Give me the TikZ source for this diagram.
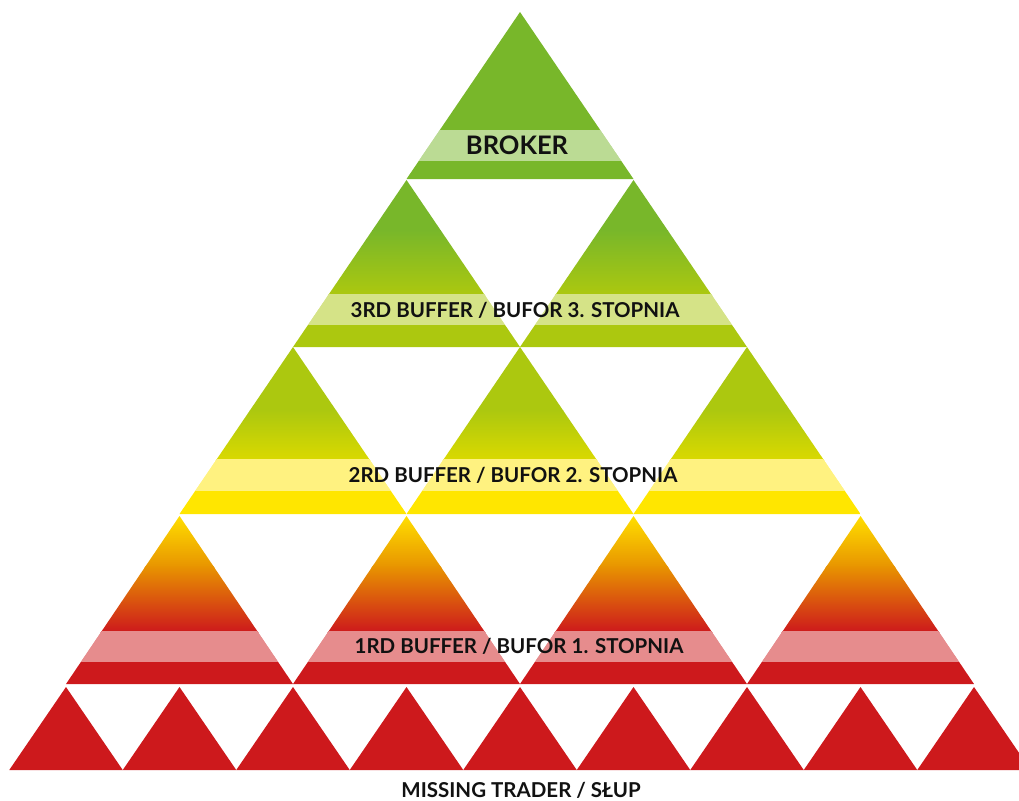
\documentclass[tikz,border=0pt]{standalone}
\usepackage{fontspec}
\setmainfont{Lato}
\definecolor{cGreen}{RGB}{120,183,42}
\definecolor{cLime}{RGB}{172,200,15}
\definecolor{cYG}{RGB}{218,217,0}
\definecolor{cYellow}{RGB}{255,230,0}
\definecolor{cYtop}{RGB}{255,222,0}
\definecolor{cOrange}{RGB}{232,148,0}
\definecolor{cRed}{RGB}{205,25,28}
\definecolor{cText}{RGB}{17,17,17}
\tikzset{
  bandfill/.style={fill=white,fill opacity=0.5},
  lbl/.style={font=\bfseries\fontsize{20.5}{23}\selectfont, text=cText, inner sep=0pt, anchor=base},
}
% triangle path: centre x, apex y, half width, height
\newcommand\tripath[4]{(#1,#2) -- ({#1+#3},{#2+#4}) -- ({#1-#3},{#2+#4}) -- cycle}
\begin{document}
\begin{tikzpicture}[x=1pt,y=-1pt]
\useasboundingbox (0,0) rectangle (1019,800);
% ---- row 0 : broker
\begin{scope}
  \clip \tripath{520}{12}{113.5}{167};
  \fill[cGreen] (400,0) rectangle (640,190);
  \path[bandfill] (400,130) rectangle (640,161);
\end{scope}
% ---- row 1
\foreach \cx in {406.5,633.5}{
\begin{scope}
  \clip \tripath{\cx}{180}{113.5}{167};
  \fill[cGreen] ({\cx-114},180) rectangle ({\cx+114},231);
  \shade[top color=cGreen,bottom color=cLime] ({\cx-114},230) rectangle ({\cx+114},295);
  \fill[cLime] ({\cx-114},294) rectangle ({\cx+114},348);
  \path[bandfill] ({\cx-114},294) rectangle ({\cx+114},325);
\end{scope}
}
% ---- row 2
\foreach \cx in {293,520,747}{
\begin{scope}
  \clip \tripath{\cx}{347}{113.5}{167};
  \fill[cLime] ({\cx-114},347) rectangle ({\cx+114},411);
  \shade[top color=cLime,bottom color=cYG] ({\cx-114},410) rectangle ({\cx+114},460);
  \fill[cYellow] ({\cx-114},459) rectangle ({\cx+114},515);
  \path[bandfill] ({\cx-114},459) rectangle ({\cx+114},491);
\end{scope}
}
% ---- row 3
\foreach \cx in {179.5,406.5,633.5,860.5}{
\begin{scope}
  \clip \tripath{\cx}{516}{113.5}{168};
  \shade[top color=cYtop,bottom color=cOrange] ({\cx-114},516) rectangle ({\cx+114},567);
  \shade[top color=cOrange,bottom color=cRed] ({\cx-114},566) rectangle ({\cx+114},632);
  \fill[cRed] ({\cx-114},631) rectangle ({\cx+114},686);
  \path[bandfill] ({\cx-114},631) rectangle ({\cx+114},662);
\end{scope}
}
% ---- bottom row
\foreach \k in {0,...,8}{
  \fill[cRed] \tripath{66+113.5*\k}{687}{56.75}{83};
}
% ---- labels
\node[lbl, font=\bfseries\fontsize{25.5}{28}\selectfont] (broker) at (517,154) {BROKER};
\node[lbl] (buf3) at (515,317) {3RD BUFFER / BUFOR 3. STOPNIA};
\node[lbl] (buf2) at (513,482.5) {2RD BUFFER / BUFOR 2. STOPNIA};
\node[lbl] (buf1) at (519,653) {1RD BUFFER / BUFOR 1. STOPNIA};
\node[lbl] (trader) at (521,797) {MISSING TRADER / SŁUP};
\end{tikzpicture}
\end{document}
